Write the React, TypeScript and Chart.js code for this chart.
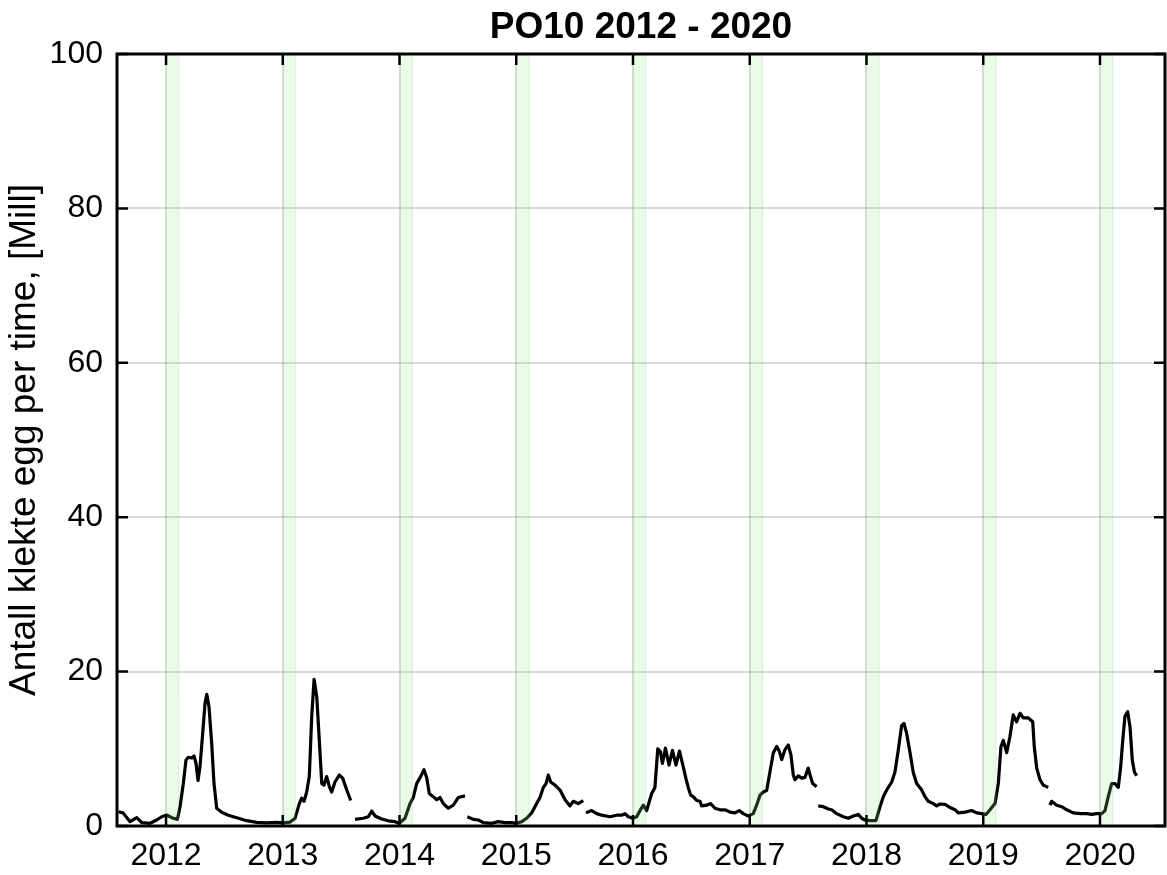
import React, { useEffect, useRef } from "react";
import { Chart, registerables } from "chart.js";

Chart.register(...registerables);

const TITLE = "PO10 2012 - 2020";
const Y_LABEL = "Antall klekte egg per time, [Mill]";
const yearTicks = [2012, 2013, 2014, 2015, 2016, 2017, 2018, 2019, 2020];
const yTicks = [0, 20, 40, 60, 80, 100];
const xMin = 2011.58;
const xMax = 2020.557;
const bandStartYears = [2012, 2013, 2014, 2015, 2016, 2017, 2018, 2019, 2020];
const bandLengthYears = 0.11;

// [decimal year, million hatched eggs per hour]
const season1: [number, number][] = [
  [2011.592, 1.85], [2011.632, 1.7], [2011.692, 0.56], [2011.749, 1.08], [2011.792, 0.43],
  [2011.863, 0.35], [2011.92, 0.78], [2011.963, 1.2], [2012.006, 1.42], [2012.049, 1.08],
  [2012.097, 0.86], [2012.12, 2.5], [2012.148, 5.5], [2012.171, 8.55], [2012.191, 8.9],
  [2012.22, 8.8], [2012.24, 9.07], [2012.257, 8.1], [2012.274, 5.9], [2012.291, 7.7],
  [2012.314, 12.0], [2012.334, 15.9], [2012.349, 17.06], [2012.368, 15.45], [2012.391, 10.7],
  [2012.411, 5.5], [2012.434, 2.3], [2012.477, 1.77], [2012.534, 1.4], [2012.606, 1.08],
  [2012.691, 0.69], [2012.777, 0.47], [2012.862, 0.4], [2012.948, 0.47], [2013.005, 0.4],
  [2013.062, 0.5], [2013.105, 1.0], [2013.142, 2.9], [2013.162, 3.6], [2013.182, 3.2],
  [2013.205, 4.4], [2013.227, 6.4], [2013.248, 14.2], [2013.268, 19.0], [2013.291, 16.75],
  [2013.313, 11.1], [2013.334, 5.5], [2013.353, 5.3], [2013.376, 6.4], [2013.399, 5.1],
  [2013.419, 4.4], [2013.447, 5.7], [2013.484, 6.6], [2013.513, 6.2], [2013.548, 4.66],
  [2013.582, 3.3],
];

const season2: [number, number][] = [
  [2013.619, 0.86], [2013.69, 1.0], [2013.733, 1.2], [2013.762, 1.94], [2013.79, 1.3],
  [2013.847, 0.9], [2013.904, 0.67], [2013.961, 0.56], [2013.998, 0.35], [2014.047, 1.0],
  [2014.09, 2.9], [2014.118, 3.7], [2014.147, 5.5], [2014.176, 6.26], [2014.21, 7.3],
  [2014.233, 6.26], [2014.255, 4.2], [2014.289, 3.8], [2014.319, 3.4], [2014.347, 3.7],
  [2014.375, 2.9], [2014.418, 2.3], [2014.461, 2.7], [2014.504, 3.7], [2014.561, 3.9],
];

const season3: [number, number][] = [
  [2014.581, 1.2], [2014.632, 0.86], [2014.675, 0.78], [2014.718, 0.43], [2014.79, 0.35],
  [2014.846, 0.56], [2014.904, 0.43], [2014.961, 0.43], [2014.998, 0.35], [2015.047, 0.56],
  [2015.089, 1.0], [2015.132, 1.7], [2015.175, 2.9], [2015.203, 3.7], [2015.232, 5.0],
  [2015.255, 5.5], [2015.274, 6.6], [2015.295, 5.7], [2015.332, 5.3], [2015.375, 4.66],
  [2015.418, 3.4], [2015.46, 2.6], [2015.489, 3.2], [2015.531, 2.9], [2015.574, 3.3],
];

const season4: [number, number][] = [
  [2015.597, 1.7], [2015.646, 2.0], [2015.689, 1.6], [2015.732, 1.4], [2015.803, 1.2],
  [2015.86, 1.4], [2015.903, 1.4], [2015.931, 1.6], [2015.96, 1.2], [2015.997, 1.0],
  [2016.032, 1.2], [2016.06, 2.0], [2016.088, 2.7], [2016.117, 2.0], [2016.16, 4.2],
  [2016.188, 5.0], [2016.212, 10.0], [2016.235, 9.6], [2016.252, 8.1], [2016.278, 10.1],
  [2016.308, 7.9], [2016.338, 9.8], [2016.368, 7.9], [2016.398, 9.7], [2016.425, 8.0],
  [2016.454, 6.1], [2016.473, 5.0], [2016.494, 4.0], [2016.516, 3.8], [2016.545, 3.3],
  [2016.574, 3.2], [2016.588, 2.6], [2016.631, 2.7], [2016.665, 2.9], [2016.702, 2.3],
  [2016.745, 2.1], [2016.788, 2.1], [2016.831, 1.8], [2016.874, 1.7], [2016.91, 2.0],
  [2016.945, 1.6], [2016.987, 1.3], [2017.03, 1.6], [2017.059, 2.7], [2017.088, 4.0],
  [2017.116, 4.4], [2017.145, 4.6], [2017.174, 7.1], [2017.202, 9.5], [2017.231, 10.3],
  [2017.253, 9.7], [2017.274, 8.6], [2017.302, 9.9], [2017.33, 10.5], [2017.353, 9.2],
  [2017.373, 6.6], [2017.387, 6.0], [2017.416, 6.5], [2017.445, 6.2], [2017.473, 6.3],
  [2017.501, 7.5], [2017.522, 6.3], [2017.539, 5.5], [2017.573, 5.1],
];

const season5: [number, number][] = [
  [2017.587, 2.6], [2017.63, 2.5], [2017.673, 2.2], [2017.702, 2.1], [2017.745, 1.6],
  [2017.801, 1.2], [2017.844, 1.0], [2017.887, 1.3], [2017.93, 1.5], [2017.959, 1.0],
  [2017.987, 0.78], [2018.03, 0.69], [2018.081, 0.69], [2018.116, 2.5], [2018.144, 3.8],
  [2018.173, 4.66], [2018.216, 5.7], [2018.244, 7.0], [2018.272, 9.8], [2018.301, 13.0],
  [2018.321, 13.3], [2018.344, 12.0], [2018.373, 9.5], [2018.401, 6.9], [2018.43, 5.5],
  [2018.473, 4.66], [2018.501, 3.8], [2018.529, 3.2], [2018.572, 2.9], [2018.601, 2.6],
  [2018.63, 2.85], [2018.672, 2.8], [2018.715, 2.4], [2018.758, 2.1], [2018.786, 1.7],
  [2018.844, 1.8], [2018.901, 2.0], [2018.944, 1.7], [2018.987, 1.6], [2019.024, 1.5],
  [2019.058, 2.1], [2019.101, 2.9], [2019.129, 5.5], [2019.152, 10.3], [2019.172, 11.1],
  [2019.201, 9.5], [2019.229, 11.6], [2019.257, 14.4], [2019.286, 13.5], [2019.315, 14.6],
  [2019.343, 14.0], [2019.386, 14.0], [2019.424, 13.5], [2019.437, 10.3], [2019.458, 7.5],
  [2019.486, 6.0], [2019.514, 5.3], [2019.557, 5.0],
];

const season6: [number, number][] = [
  [2019.572, 2.7], [2019.586, 3.2], [2019.629, 2.7], [2019.672, 2.5], [2019.715, 2.1],
  [2019.771, 1.7], [2019.829, 1.6], [2019.886, 1.6], [2019.929, 1.5], [2019.972, 1.6],
  [2020.015, 1.6], [2020.043, 2.0], [2020.071, 3.8], [2020.1, 5.5], [2020.128, 5.5],
  [2020.157, 5.0], [2020.177, 7.6], [2020.195, 11.1], [2020.214, 14.2], [2020.237, 14.8],
  [2020.257, 12.9], [2020.277, 8.5], [2020.295, 7.0], [2020.314, 6.5],
];

const seasons = [season1, season2, season3, season4, season5, season6];

const FONT = "'Liberation Sans', Arial, Helvetica, sans-serif";

const bandPlugin = {
  id: "spawnBands",
  afterDatasetsDraw(chart: any) {
    const { ctx, chartArea, scales } = chart;
    const x = scales.x;
    ctx.save();
    ctx.beginPath();
    ctx.rect(chartArea.left, chartArea.top, chartArea.right - chartArea.left, chartArea.bottom - chartArea.top);
    ctx.clip();
    for (const yr of bandStartYears) {
      const a = x.getPixelForValue(yr);
      const b = x.getPixelForValue(yr + bandLengthYears);
      ctx.fillStyle = "rgba(140,240,140,0.2)";
      ctx.fillRect(a, chartArea.top, b - a, chartArea.bottom - chartArea.top);
      ctx.strokeStyle = "rgba(60,140,60,0.12)";
      ctx.lineWidth = 1;
      ctx.beginPath();
      ctx.moveTo(b, chartArea.top);
      ctx.lineTo(b, chartArea.bottom);
      ctx.stroke();
    }
    ctx.restore();
  },
};

const framePlugin = {
  id: "frameTicks",
  afterDraw(chart: any) {
    const { ctx, chartArea, scales } = chart;
    const { left, right, top, bottom } = chartArea;
    ctx.save();
    ctx.strokeStyle = "#000";
    ctx.lineWidth = 2.5;
    const tl = 11;
    ctx.beginPath();
    for (const yr of yearTicks) {
      const px = scales.x.getPixelForValue(yr);
      ctx.moveTo(px, bottom);
      ctx.lineTo(px, bottom - tl);
      ctx.moveTo(px, top);
      ctx.lineTo(px, top + tl);
    }
    for (const v of yTicks) {
      const py = scales.y.getPixelForValue(v);
      ctx.moveTo(left, py);
      ctx.lineTo(left + tl, py);
      ctx.moveTo(right, py);
      ctx.lineTo(right - tl, py);
    }
    ctx.stroke();
    ctx.lineWidth = 3;
    ctx.strokeRect(left, top, right - left, bottom - top);
    ctx.restore();
  },
};

export default function App() {
  const ref = useRef<HTMLCanvasElement | null>(null);

  useEffect(() => {
    if (!ref.current) return;
    const datasets = seasons.map((s) => ({
      data: s.map(([x, y]) => ({ x, y })),
      borderColor: "#000",
      borderWidth: 3.2,
      pointRadius: 0,
      tension: 0,
      fill: false,
      borderJoinStyle: "round" as const,
      borderCapStyle: "butt" as const,
    }));
    const chart = new Chart(ref.current, {
      type: "line",
      data: { datasets },
      plugins: [bandPlugin, framePlugin],
      options: {
        animation: false,
        responsive: true,
        maintainAspectRatio: false,
        layout: { padding: { left: 0, right: 2, top: 0, bottom: 0 } },
        plugins: {
          legend: { display: false },
          tooltip: { enabled: false },
          title: {
            display: true,
            text: TITLE,
            fullSize: false,
            color: "#000",
            font: { family: FONT, size: 37, weight: "bold", lineHeight: 1.2 },
            padding: { top: 6, bottom: 3.6 },
          },
        },
        scales: {
          x: {
            type: "linear",
            min: xMin,
            max: xMax,
            afterBuildTicks: (scale: any) => {
              scale.ticks = yearTicks.map((v) => ({ value: v }));
            },
            afterFit: (scale: any) => {
              scale.height = 49;
            },
            ticks: {
              autoSkip: false,
              maxRotation: 0,
              color: "#000",
              padding: 11,
              font: { family: FONT, size: 32 },
              callback: (v: any) => String(v),
            },
            grid: { color: "rgba(0,0,0,0.15)", lineWidth: 2, drawTicks: false },
            border: { display: false },
          },
          y: {
            type: "linear",
            min: 0,
            max: 100,
            afterBuildTicks: (scale: any) => {
              scale.ticks = yTicks.map((v) => ({ value: v }));
            },
            afterFit: (scale: any) => {
              scale.width = 117;
            },
            ticks: {
              color: "#000",
              padding: 14,
              font: { family: FONT, size: 32 },
              callback: (v: any) => String(v),
            },
            title: {
              display: true,
              text: Y_LABEL,
              color: "#000",
              font: { family: FONT, size: 37, lineHeight: 1.2 },
              padding: { top: 3, bottom: 0 },
            },
            grid: { color: "rgba(0,0,0,0.15)", lineWidth: 2, drawTicks: false },
            border: { display: false },
          },
        },
      },
    });
    return () => chart.destroy();
  }, []);

  return (
    <div style={{ position: "fixed", left: 0, top: 0, width: 1167, height: 875, background: "#fff" }}>
      <canvas ref={ref} />
    </div>
  );
}
